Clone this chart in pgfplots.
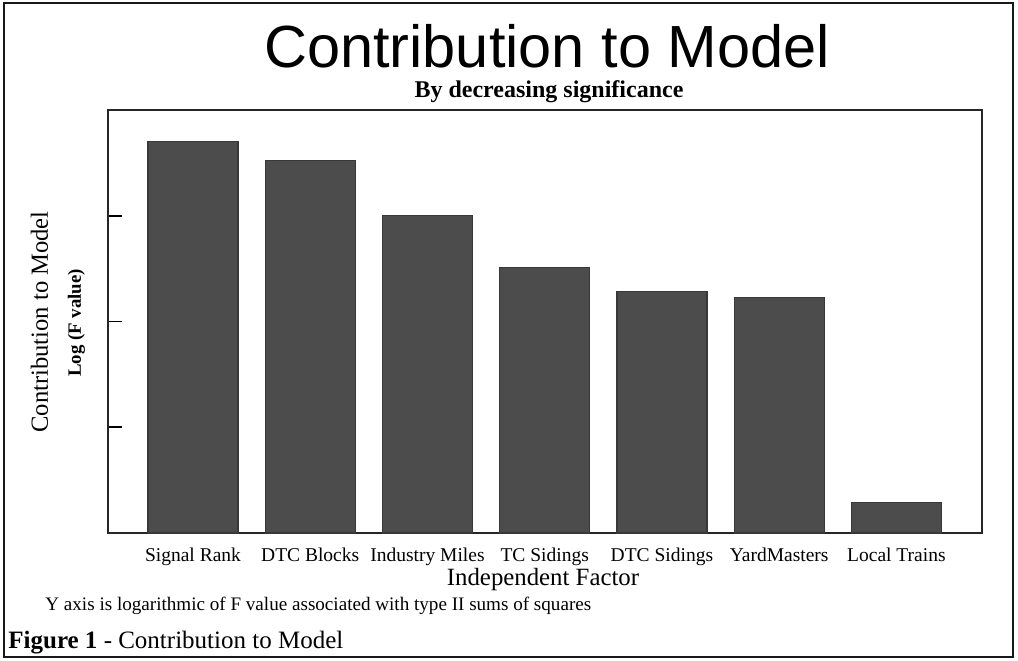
\documentclass[border=0pt]{standalone}
\usepackage{pgfplots}
\pgfplotsset{compat=1.18}
\usepackage{fontspec}
\setmainfont{Liberation Serif}
\newfontfamily\arialfont{Liberation Sans}
\definecolor{barfill}{HTML}{4C4C4C}
\definecolor{baredge}{HTML}{383838}
\begin{document}
\begin{tikzpicture}[x=0.5pt,y=0.5pt]
% pixel (x,y) -> (x-108, 533-y)
\useasboundingbox (-108,-127) rectangle (910,533);
\begin{axis}[
  at={(0,0)}, anchor=south west,
  scale only axis,
  width=437pt, height=211.5pt,
  xmin=-0.725, xmax=6.73,
  ymin=0, ymax=4,
  axis line style={line width=1pt, draw=black!85},
  xtick={0,1,2,3,4,5,6},
  xticklabels={Signal Rank, DTC Blocks, Industry Miles, TC Sidings, DTC Sidings, YardMasters, Local Trains},
  xtick style={draw=none},
  xticklabel style={font=\fontsize{9.75pt}{11pt}\selectfont, anchor=base, yshift=-7pt},
  ytick={1,2,3},
  yticklabels={},
  ytick style={line width=0.8pt, black},
  major tick length=7pt,
  tick align=inside,
  tick pos=left,
  ybar,
  bar width=45pt,
]
\addplot[fill=barfill, draw=baredge, line width=0.6pt] coordinates {
  (0,3.70) (1,3.52) (2,3.00) (3,2.51) (4,2.28) (5,2.23) (6,0.29)
};
\end{axis}
% outer frame
\draw[line width=1.3pt, black!90] (-104,530) rectangle (905,-124);
% title
\node[anchor=base, font=\arialfont\fontsize{29.75pt}{31pt}\selectfont] at (439,466) {Contribution to Model};
\node[anchor=base, font=\bfseries\fontsize{12pt}{13pt}\selectfont] at (441,436) {By decreasing significance};
% y labels
\node[rotate=90, anchor=base, font=\fontsize{12.3pt}{13pt}\selectfont] at (-60,211) {Contribution to Model};
\node[rotate=90, anchor=base, font=\bfseries\fontsize{9.4pt}{10pt}\selectfont] at (-27,210) {Log (F value)};
% x label
\node[anchor=base, font=\fontsize{12.4pt}{13pt}\selectfont] at (435,-52) {Independent Factor};
% footnote
\node[anchor=base west, inner sep=0pt, font=\fontsize{9.55pt}{10pt}\selectfont] at (-63,-77) {Y axis is logarithmic of F value associated with type II sums of squares};
\node[anchor=base west, inner sep=0pt, font=\fontsize{12.5pt}{13pt}\selectfont] at (-100,-115) {\textbf{Figure 1} - Contribution to Model};
\end{tikzpicture}
\end{document}
